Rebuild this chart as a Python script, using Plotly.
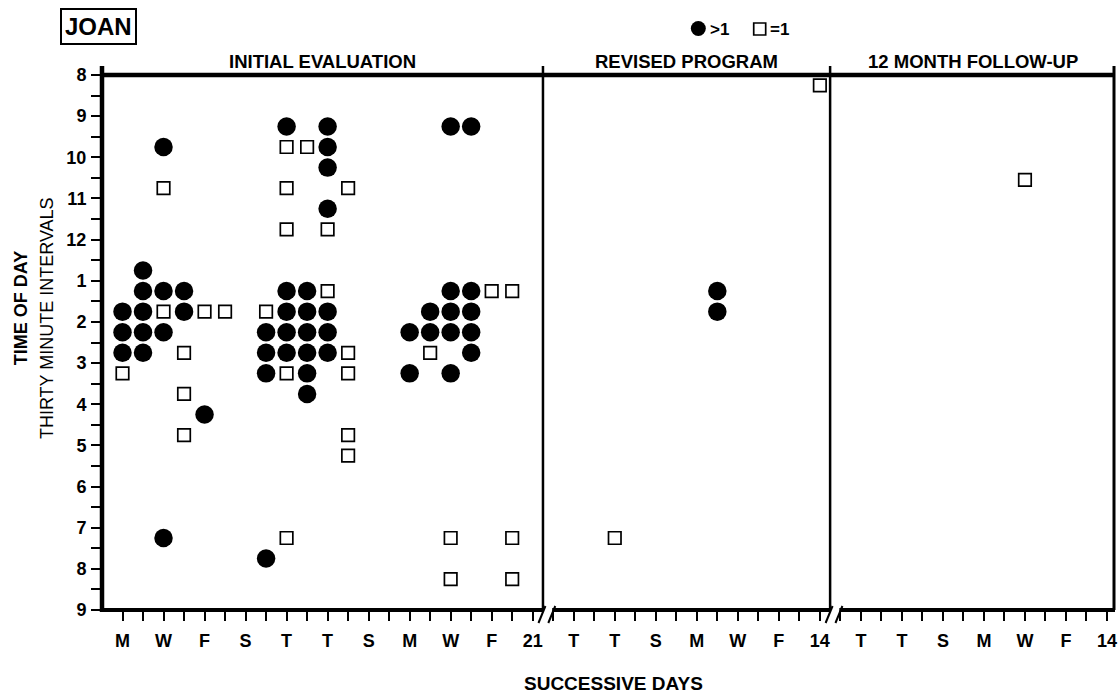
import plotly.graph_objects as go

# ---------------- data ----------------
# interval index: 0 = 8:00-8:30 am, 1 = 8:30-9:00, ... (thirty-minute intervals)
# day index within each phase
# Phase 1: INITIAL EVALUATION (21 days)
init_circle_day = [1, 1, 1,
                   2, 2, 2, 2, 2,
                   3, 3, 3, 3,
                   4, 4,
                   5,
                   8, 8, 8, 8,
                   9, 9, 9, 9, 9,
                   10, 10, 10, 10, 10, 10,
                   11, 11, 11, 11, 11, 11, 11,
                   15, 15,
                   16, 16,
                   17, 17, 17, 17, 17,
                   18, 18, 18, 18, 18]
init_circle_int = [11, 12, 13,
                   9, 10, 11, 12, 13,
                   3, 10, 12, 22,
                   10, 11,
                   16,
                   12, 13, 14, 23,
                   2, 10, 11, 12, 13,
                   10, 11, 12, 13, 14, 15,
                   2, 3, 4, 6, 11, 12, 13,
                   12, 14,
                   11, 12,
                   2, 10, 11, 12, 14,
                   2, 10, 11, 12, 13]
init_square_day = [1,
                   3, 3,
                   4, 4, 4,
                   5, 6,
                   8,
                   9, 9, 9, 9, 9,
                   10,
                   11, 11,
                   12, 12, 12, 12, 12,
                   16,
                   17, 17,
                   19,
                   20, 20, 20]
init_square_int = [14,
                   5, 11,
                   13, 15, 17,
                   11, 11,
                   11,
                   3, 5, 7, 14, 22,
                   3,
                   7, 10,
                   5, 13, 14, 17, 18,
                   13,
                   22, 24,
                   10,
                   10, 22, 24]
# Phase 2: REVISED PROGRAM (14 days)
rev_circle_day = [9, 9]
rev_circle_int = [10, 11]
rev_square_day = [4, 14]
rev_square_int = [22, 0]
# Phase 3: 12 MONTH FOLLOW-UP (14 days)
fu_circle_day = []
fu_circle_int = []
fu_square_day = [10]
fu_square_int = [4.6]

phase_names = ["INITIAL EVALUATION", "REVISED PROGRAM", "12 MONTH FOLLOW-UP"]
phase_lengths = [21, 14, 14]
phase_day_labels = [
    ["M", "", "W", "", "F", "", "S", "", "T", "", "T", "", "S", "", "M", "", "W", "", "F", "", "21"],
    ["", "T", "", "T", "", "S", "", "M", "", "W", "", "F", "", "14"],
    ["", "T", "", "T", "", "S", "", "M", "", "W", "", "F", "", "14"],
]
hour_labels = ["8", "9", "10", "11", "12", "1", "2", "3", "4", "5", "6", "7", "8", "9"]

# ---------------- geometry helpers ----------------
W, H = 1120, 698
L, R, T, B = 102, 3, 75, 88
PW, PH = W - L - R, H - T - B


def px(xp):
    return (xp - L) / PW


def py(yp):
    return (H - B - yp) / PH


offsets = [0, 21, 35]
X_MIN = 0.0
X_MAX = 49.39


def xs(days, phase):
    return [d + offsets[phase] for d in days]


def ys(ints):
    return [0.25 + 0.5 * n for n in ints]


circle_x = xs(init_circle_day, 0) + xs(rev_circle_day, 1) + xs(fu_circle_day, 2)
circle_y = ys(init_circle_int) + ys(rev_circle_int) + ys(fu_circle_int)
square_x = xs(init_square_day, 0) + xs(rev_square_day, 1) + xs(fu_square_day, 2)
square_y = ys(init_square_int) + ys(rev_square_int) + ys(fu_square_int)

fig = go.Figure()
fig.add_trace(go.Scatter(
    x=circle_x, y=circle_y, mode="markers", name=">1", showlegend=False,
    marker=dict(symbol="circle", size=18.5, color="black", line=dict(width=0)),
))
fig.add_trace(go.Scatter(
    x=square_x, y=square_y, mode="markers", name="=1", showlegend=False,
    marker=dict(symbol="square", size=12.5, color="white", line=dict(width=1.7, color="black")),
))

# tick values / labels
tickvals = []
ticktext = []
for p in range(3):
    for i in range(phase_lengths[p]):
        tickvals.append(offsets[p] + i + 1)
        ticktext.append(phase_day_labels[p][i])

ytickvals = [k * 0.5 for k in range(27)]
yticktext = [hour_labels[k // 2] if k % 2 == 0 else "" for k in range(27)]

FONT = "Liberation Sans, Arial, Helvetica, sans-serif"

fig.update_layout(
    width=W, height=H,
    margin=dict(l=L, r=R, t=T, b=B, pad=0),
    paper_bgcolor="white", plot_bgcolor="white",
    showlegend=False,
    font=dict(family=FONT, color="black"),
    xaxis=dict(
        range=[X_MIN, X_MAX], showgrid=False, zeroline=False, showline=False,
        tickmode="array", tickvals=tickvals, ticktext=ticktext,
        ticks="outside", ticklen=10, tickwidth=2, tickcolor="black",
        tickfont=dict(family=FONT, size=18, color="black", weight="bold"),
        ticklabelstandoff=4, ticklabeloverflow="allow",
    ),
    yaxis=dict(
        range=[13, 0], showgrid=False, zeroline=False, showline=False,
        tickmode="array", tickvals=ytickvals, ticktext=yticktext,
        ticks="outside", ticklen=10, tickwidth=2, tickcolor="black",
        tickfont=dict(family=FONT, size=18, color="black", weight="bold"),
        ticklabelstandoff=1,
    ),
)

shapes = []
# frame
ext = 9 / PH
shapes.append(dict(type="line", xref="paper", yref="paper", x0=0, x1=1, y0=1, y1=1,
                   line=dict(color="black", width=4.5)))
shapes.append(dict(type="line", xref="paper", yref="paper", x0=0, x1=0, y0=-2 / PH, y1=1 + ext,
                   line=dict(color="black", width=4.5)))
shapes.append(dict(type="line", xref="paper", yref="paper", x0=1 - 1 / PW, x1=1 - 1 / PW, y0=0, y1=1 + ext,
                   line=dict(color="black", width=3)))
dividers = [21.5, 35.5]
for d in dividers:
    shapes.append(dict(type="line", xref="x", yref="paper", x0=d, x1=d, y0=0, y1=1 + ext,
                       line=dict(color="black", width=2.5)))
# bottom line with breaks
gap = 0.45
segs = [(X_MIN, dividers[0]), (dividers[0] + gap, dividers[1]), (dividers[1] + gap, X_MAX)]
for a, b in segs:
    shapes.append(dict(type="line", xref="x", yref="paper", x0=a, x1=b, y0=0, y1=0,
                       line=dict(color="black", width=4)))
for d in dividers:
    for off in (-0.05, 0.43):
        shapes.append(dict(type="line", xref="x", yref="paper",
                           x0=d + off - 0.17, x1=d + off + 0.17,
                           y0=-13 / PH, y1=4 / PH,
                           line=dict(color="black", width=2)))

# legend symbols
shapes.append(dict(type="circle", xref="paper", yref="paper",
                   x0=px(692), x1=px(707), y0=py(36), y1=py(21),
                   fillcolor="black", line=dict(color="black", width=0)))
shapes.append(dict(type="rect", xref="paper", yref="paper",
                   x0=px(755), x1=px(767), y0=py(35), y1=py(23),
                   fillcolor="white", line=dict(color="black", width=1.7)))
fig.update_layout(shapes=shapes)

ann = []
ann.append(dict(text="JOAN", xref="paper", yref="paper", x=px(98), y=py(26),
                xanchor="center", yanchor="middle", showarrow=False,
                font=dict(family=FONT, size=24, color="black", weight="bold"),
                bordercolor="black", borderwidth=2, borderpad=3))
ann.append(dict(text=">1", xref="paper", yref="paper", x=px(709), y=py(29),
                xanchor="left", yanchor="middle", showarrow=False,
                font=dict(family=FONT, size=17, color="black", weight="bold")))
ann.append(dict(text="=1", xref="paper", yref="paper", x=px(769), y=py(29),
                xanchor="left", yanchor="middle", showarrow=False,
                font=dict(family=FONT, size=17, color="black", weight="bold")))
bounds = [X_MIN, dividers[0], dividers[1], X_MAX]
for p in range(3):
    ann.append(dict(text=phase_names[p], xref="x", yref="paper",
                    x=(bounds[p] + bounds[p + 1]) / 2, y=py(62),
                    xanchor="center", yanchor="middle", showarrow=False,
                    font=dict(family=FONT, size=18.5, color="black", weight="bold")))
ann.append(dict(text="SUCCESSIVE DAYS", xref="paper", yref="paper", x=px(615), y=py(683),
                xanchor="center", yanchor="middle", showarrow=False,
                font=dict(family=FONT, size=19, color="black", weight="bold")))
ann.append(dict(text="TIME OF DAY", xref="paper", yref="paper", x=px(21), y=py(308),
                xanchor="center", yanchor="middle", showarrow=False, textangle=-90,
                font=dict(family=FONT, size=18, color="black", weight="bold")))
ann.append(dict(text="THIRTY MINUTE INTERVALS", xref="paper", yref="paper", x=px(47), y=py(318),
                xanchor="center", yanchor="middle", showarrow=False, textangle=-90,
                font=dict(family=FONT, size=18, color="black")))
fig.update_layout(annotations=ann)

fig.write_html("out.html",
               config={"displayModeBar": False},
               post_script="document.body.style.margin='0';document.body.style.overflow='hidden';")
